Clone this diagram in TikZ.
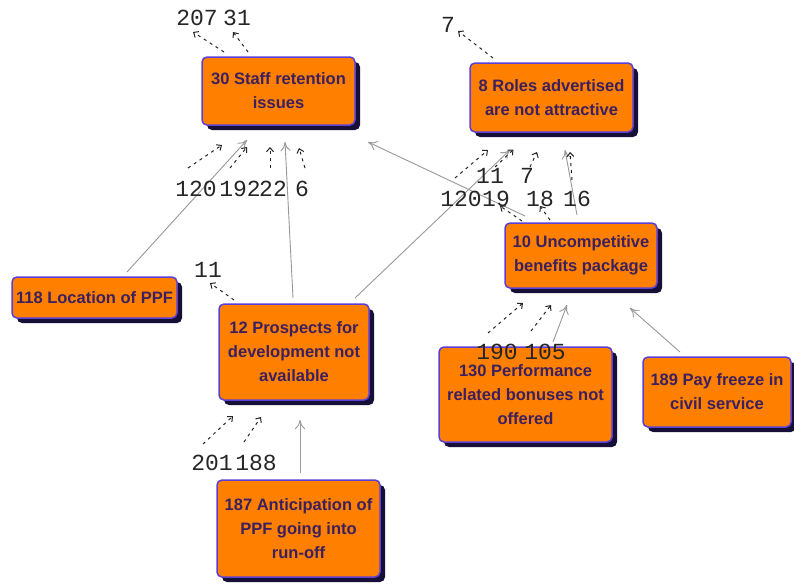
\documentclass[tikz,border=0pt]{standalone}
\usepackage{fontspec}
\setmainfont{Liberation Sans}
\newfontfamily\labfont{Liberation Mono}
\usetikzlibrary{shadows,arrows.meta}
\definecolor{boxfill}{HTML}{FF8000}
\definecolor{boxline}{HTML}{5B3FD6}
\definecolor{boxtext}{HTML}{3B1F5E}
\definecolor{boxshadow}{HTML}{161038}
\definecolor{linkgray}{HTML}{999999}
\begin{document}
\begin{tikzpicture}[x=1pt,y=-1pt,
  cbox/.style={draw=boxline, line width=1.5pt, fill=boxfill, rounded corners=5pt,
    text=boxtext, font=\bfseries\fontsize{16.5}{24}\selectfont, align=center, inner sep=2pt,
    drop shadow={shadow xshift=5pt, shadow yshift=-5pt, fill=boxshadow, opacity=1}},
  link/.style={draw=linkgray, line width=0.9pt, -{To[length=9pt,width=10pt]}},
  stub/.style={draw=black!85, line width=1pt, dash pattern=on 3pt off 4pt,
    -{Straight Barb[length=4pt,width=7pt]}},
  reflab/.style={font=\labfont\fontsize{23}{23}\selectfont, inner sep=0pt, text=black!85}
]
\fill[white] (0,0) rectangle (794,584);
\useasboundingbox (0,0) rectangle (794,584);

% boxes
\node[cbox, minimum width=153pt, minimum height=68pt] (n30) at (278.5,91) {30 Staff retention\\issues};
\node[cbox, minimum width=163pt, minimum height=69pt] (n8) at (551.5,97.5) {8 Roles advertised\\are not attractive};
\node[cbox, minimum width=152pt, minimum height=65pt] (n10) at (581,255.5) {10 Uncompetitive\\benefits package};
\node[cbox, minimum width=165pt, minimum height=41pt] (n118) at (94.5,297.5) {118 Location of PPF};
\node[cbox, minimum width=150pt, minimum height=96pt] (n12) at (294,352) {12 Prospects for\\development not\\available};
\node[cbox, minimum width=173pt, minimum height=95pt] (n130) at (525.5,394.5) {130 Performance\\related bonuses not\\offered};
\node[cbox, minimum width=148pt, minimum height=70pt] (n189) at (717,392) {189 Pay freeze in\\civil service};
\node[cbox, minimum width=163pt, minimum height=97pt] (n187) at (298.5,528.5) {187 Anticipation of\\PPF going into\\run-off};

% links
\draw[link] ([shift={(32.5,-25.5)}]n118.center) -- ([shift={(-31.5,49)}]n30.center);
\draw[link] ([shift={(-1,-54)}]n12.center) -- ([shift={(6.5,51)}]n30.center);
\draw[link] ([shift={(61,-54)}]n12.center) -- ([shift={(-41.5,52.5)}]n8.center);
\draw[link] ([shift={(-56,-39.5)}]n10.center) -- ([shift={(89.5,51)}]n30.center);
\draw[link] ([shift={(-4,-40.5)}]n10.center) -- ([shift={(13.5,52.5)}]n8.center);
\draw[link] ([shift={(27.5,-52.5)}]n130.center) -- ([shift={(-14,49.5)}]n10.center);
\draw[link] ([shift={(-37,-40)}]n189.center) -- ([shift={(49,52.5)}]n10.center);
\draw[link] ([shift={(1.5,-55.5)}]n187.center) -- ([shift={(6,68)}]n12.center);

% reference labels
\node[reflab] (L207) at (197,18) {207};
\node[reflab] (L31) at (237,18) {31};
\node[reflab] (L120a) at (196,189) {120};
\node[reflab] (L192) at (240,189) {192};
\node[reflab] (L22) at (273,189) {22};
\node[reflab] (L6) at (302,189) {6};
\node[reflab] (L7a) at (448,25) {7};
\node[reflab] (L11b) at (490,176) {11};
\node[reflab] (L7b) at (527,176) {7};
\node[reflab] (L120b) at (461,199) {120};
\node[reflab] (L19) at (496,199) {19};
\node[reflab] (L18) at (540,199) {18};
\node[reflab] (L16) at (577,199) {16};
\node[reflab] (L11a) at (208,270) {11};
\node[reflab] (L201) at (212,463) {201};
\node[reflab] (L188) at (256,463) {188};
\node[reflab] (L190) at (497,352) {190};
\node[reflab] (L105) at (545,352) {105};

% stubs: outgoing (tip at label)
\draw[stub] ([shift={(-54.5,-39)}]n30.center) -- ([shift={(-4,14)}]L207.center);
\draw[stub] ([shift={(-30.5,-39)}]n30.center) -- ([shift={(-4,14)}]L31.center);
\draw[stub] ([shift={(-58.5,-39.5)}]n8.center) -- ([shift={(10,6)}]L7a.center);
\draw[stub] ([shift={(-60,-52)}]n12.center) -- ([shift={(2,13)}]L11a.center);
\draw[stub] ([shift={(-59,-34.5)}]n10.center) -- ([shift={(4,7)}]L19.center);
\draw[stub] ([shift={(-31,-35.5)}]n10.center) -- ([shift={(0,7)}]L18.center);
% stubs: incoming (tip at box)
\draw[stub] ([shift={(-8,-21)}]L120a.center) -- ([shift={(-56.5,54)}]n30.center);
\draw[stub] ([shift={(-10,-21)}]L192.center) -- ([shift={(-31.5,56)}]n30.center);
\draw[stub] ([shift={(-3,-21)}]L22.center) -- ([shift={(-8.5,56)}]n30.center);
\draw[stub] ([shift={(3,-21)}]L6.center) -- ([shift={(20.5,57)}]n30.center);
\draw[stub] ([shift={(-6,-21)}]L120b.center) -- ([shift={(-63.5,52.5)}]n8.center);
\draw[stub] ([shift={(5,-9)}]L11b.center) -- ([shift={(-38,52)}]n8.center);
\draw[stub] ([shift={(3,-9)}]L7b.center) -- ([shift={(-14.5,54.5)}]n8.center);
\draw[stub] ([shift={(-5,-19)}]L16.center) -- ([shift={(18.5,54.5)}]n8.center);
\draw[stub] ([shift={(-9,-19)}]L201.center) -- ([shift={(-61,64)}]n12.center);
\draw[stub] ([shift={(-12,-21)}]L188.center) -- ([shift={(-33,65)}]n12.center);
\draw[stub] ([shift={(-9,-19)}]L190.center) -- ([shift={(-58,47.5)}]n10.center);
\draw[stub] ([shift={(-14,-21)}]L105.center) -- ([shift={(-30,49.5)}]n10.center);
\end{tikzpicture}
\end{document}
